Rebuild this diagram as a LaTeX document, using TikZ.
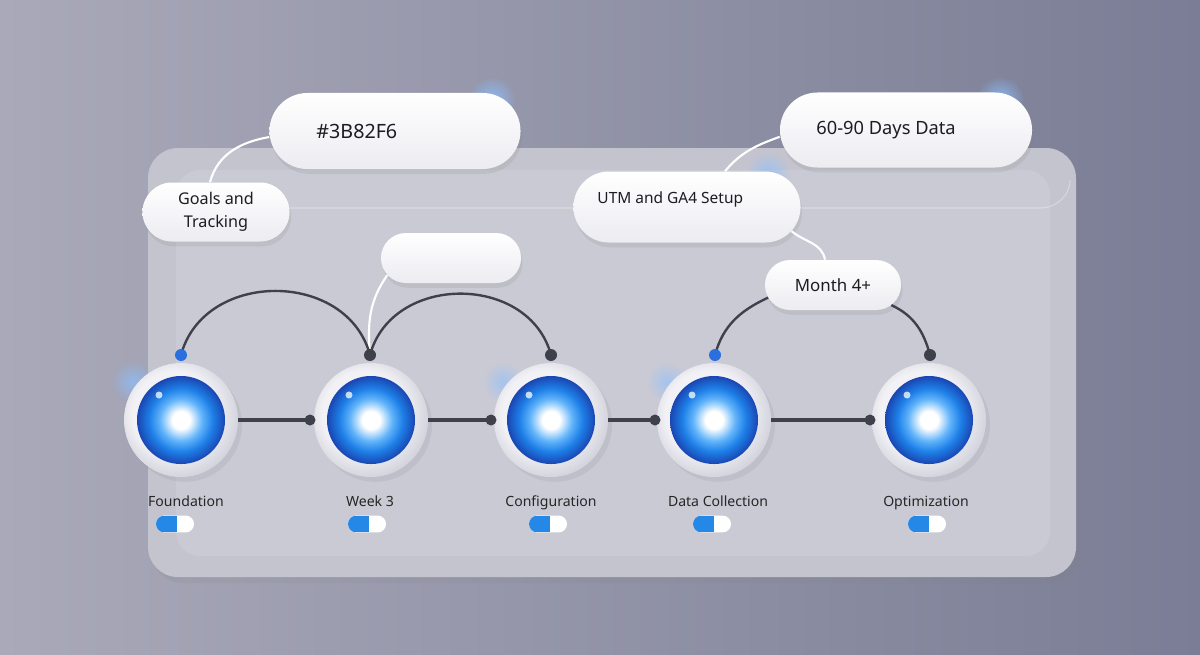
\documentclass[tikz,border=0pt]{standalone}
\usepackage{fontspec}
\setmainfont{Noto Sans}
\usetikzlibrary{shapes.misc,shadows,fadings,positioning}
\definecolor{bgl}{HTML}{A9A9B9}
\definecolor{bgr}{HTML}{7A7D95}
\definecolor{panelc}{HTML}{C4C4CF}
\definecolor{paneli}{HTML}{CACAD5}
\definecolor{pillb}{HTML}{ECECF1}
\definecolor{orbl}{HTML}{62B4FA}
\definecolor{orbm}{HTML}{1E80E8}
\definecolor{orbd}{HTML}{1A46B2}
\definecolor{ringc}{HTML}{F2F2F6}
\definecolor{ringe}{HTML}{D2D2DC}
\definecolor{linec}{HTML}{3E404B}
\definecolor{dotb}{HTML}{2A6FDD}
\definecolor{togb}{HTML}{2688E6}
\definecolor{glowc}{HTML}{8CC0FF}
\definecolor{txt}{HTML}{1C1C22}
\pgfdeclareradialshading{orbsh}{\pgfpoint{0bp}{0bp}}{color(0bp)=(white); color(5bp)=(white); color(12bp)=(orbl); color(18bp)=(orbm); color(25bp)=(orbd); color(50bp)=(orbd)}
\pgfdeclareradialshading{ringsh}{\pgfpoint{-5bp}{5bp}}{color(0bp)=(ringc); color(18bp)=(ringc); color(28bp)=(ringe); color(50bp)=(ringe)}
\tikzfading[name=glowfade, inner color=transparent!0, outer color=transparent!100]

\begin{document}
\begin{tikzpicture}[x=0.025cm,y=-0.025cm]
\tikzstyle{every node}+=[inner sep=0pt, text=txt]
\tikzstyle{pill}=[rounded rectangle, top color=white, bottom color=pillb, drop shadow={opacity=0.16,shadow xshift=0.04cm,shadow yshift=-0.12cm}]
\tikzstyle{ringnode}=[circle, minimum size=2.85cm, shading=ringsh, drop shadow={opacity=0.14,shadow xshift=0.1cm,shadow yshift=-0.12cm}]
\tikzstyle{orbnode}=[circle, minimum size=2.2cm, shading=orbsh]
\tikzstyle{lbl}=[anchor=base, font=\fontsize{10}{12}\selectfont, text=black!85]
\tikzstyle{tog}=[rounded rectangle, minimum width=0.95cm, minimum height=0.42cm, fill=white, path picture={\fill[togb] (path picture bounding box.south west) rectangle ([xshift=0.05cm]path picture bounding box.north);}]
\tikzstyle{hline}=[linec, line width=2.2pt]
\tikzstyle{arcl}=[linec, line width=1.7pt]
\tikzstyle{wire}=[white, line width=1.5pt]
\tikzstyle{glow}=[glowc, path fading=glowfade]
\useasboundingbox (0,0) rectangle (1200,654);
\shade[left color=bgl, right color=bgr] (0,0) rectangle (1200,654);
\path[fill=panelc, rounded corners=0.75cm, drop shadow={opacity=0.12,shadow yshift=-0.15cm}] (148,148) rectangle (1076,577);
\fill[paneli, rounded corners=0.6cm] (176,170) rectangle (1050,556);
\draw[white, opacity=0.3, line width=0.8pt] (176,208) -- (1040,208) to[out=0,in=-90] (1070,180);
\fill[glow, opacity=0.85] (492,100) circle (24);
\fill[glow, opacity=0.85] (1000,100) circle (24);
\fill[glow, opacity=0.7] (768,174) circle (22);
\fill[glow, opacity=0.7] (133,382) circle (22);
\fill[glow, opacity=0.6] (503,382) circle (20);
\fill[glow, opacity=0.6] (667,382) circle (20);
\node[pill, minimum width=6.275cm, minimum height=1.9cm] (hexp) at (395,131) {};
\node[anchor=west, font=\fontsize{14}{16}\selectfont] (hexpt) at ([xshift=1.175cm]hexp.west) {\#3B82F6};
\node[pill, minimum width=6.3cm, minimum height=1.875cm] (days) at (906,130) {};
\node[anchor=west, font=\fontsize{13}{15}\selectfont] (dayst) at ([xshift=0.91cm]days.west) {60-90 Days Data};
\node[pill, minimum width=3.675cm, minimum height=1.475cm, align=center, font=\fontsize{11.5}{16}\selectfont] (goals) at (216,212) {Goals and\\Tracking};
\node[pill, minimum width=3.5cm, minimum height=1.25cm] (empty) at (451,258) {};
\coordinate (t1) at (181,355);
\coordinate (t2) at (370,355);
\coordinate (t3) at (551,355);
\coordinate (t4) at (715,355);
\coordinate (t5) at (930,355);
\draw[wire] ([yshift=-0.15cm]hexp.west) to[out=190,in=75] ([xshift=-0.15cm]goals.north);
\draw[wire] (empty.195) to[out=235,in=95] (t2);
\draw[arcl] (t1) to[out=75,in=105,looseness=1.2] (t2);
\draw[arcl] (t2) to[out=75,in=105,looseness=1.2] (t3);
\node[pill, minimum width=5.675cm, minimum height=1.775cm] (utm) at (687,207) {};
\node[anchor=west, font=\fontsize{11}{13}\selectfont] (utmt) at ([xshift=0.6cm,yshift=0.2cm]utm.west) {UTM and GA4 Setup};
\node[pill, minimum width=3.4cm, minimum height=1.25cm, font=\fontsize{12}{14}\selectfont] (month) at (833,285) {Month 4+};
\draw[wire] ([yshift=-0.17cm]days.west) to[out=200,in=50] ([xshift=0.95cm]utm.north);
\draw[wire] (utm.-13) to[out=-40,in=100] ([xshift=-0.2cm]month.north);
\draw[arcl] (t4) to[out=75,in=205] (month.191);
\draw[arcl] (month.-19) to[out=-25,in=105] (t5);
\node[ringnode] (s1) at (181,420) {};
\node[ringnode] (s2) at (371,420) {};
\node[ringnode] (s3) at (551,420) {};
\node[ringnode] (s4) at (714,420) {};
\node[ringnode] (s5) at (929,420) {};
\node[orbnode] (o1) at (s1) {};
\node[orbnode] (o2) at (s2) {};
\node[orbnode] (o3) at (s3) {};
\node[orbnode] (o4) at (s4) {};
\node[orbnode] (o5) at (s5) {};
\fill[white, opacity=0.75] (159,395) circle (3.5);
\fill[white, opacity=0.75] (349,395) circle (3.5);
\fill[white, opacity=0.75] (529,395) circle (3.5);
\fill[white, opacity=0.75] (692,395) circle (3.5);
\fill[white, opacity=0.75] (907,395) circle (3.5);
\coordinate (h1) at (310,420);
\coordinate (h2) at (491,420);
\coordinate (h3) at (655,420);
\coordinate (h4) at (870,420);
\draw[hline] (s1.east) -- (h1);
\draw[hline] (s2.east) -- (h2);
\draw[hline] (s3.east) -- (h3);
\draw[hline] (s4.east) -- (h4);
\fill[linec] (h1) circle (5.5);
\fill[linec] (h2) circle (5.5);
\fill[linec] (h3) circle (5.5);
\fill[linec] (h4) circle (5.5);
\fill[dotb] (t1) circle (6);
\fill[linec] (t2) circle (6);
\fill[linec] (t3) circle (6);
\fill[dotb] (t4) circle (6);
\fill[linec] (t5) circle (6);
\node[lbl] (l1) at (186,506) {Foundation};
\node[lbl] (l2) at (370,506) {Week 3};
\node[lbl] (l3) at (551,506) {Configuration};
\node[lbl] (l4) at (718,506) {Data Collection};
\node[lbl] (l5) at (926,506) {Optimization};
\node[tog] (g1) at (175,524) {};
\node[tog] (g2) at (367,524) {};
\node[tog] (g3) at (548,524) {};
\node[tog] (g4) at (712,524) {};
\node[tog] (g5) at (927,524) {};
\end{tikzpicture}
\end{document}
